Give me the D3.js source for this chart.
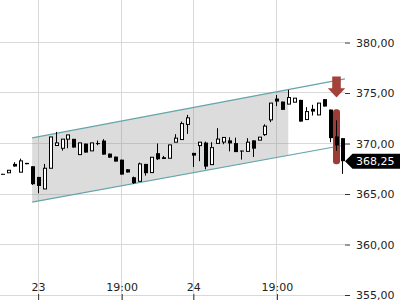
<!DOCTYPE html>
<html>
<head>
<meta charset="utf-8">
<script src="https://cdn.jsdelivr.net/npm/d3@7"></script>
<style>
  body { margin: 0; background: #fff; }
  svg { display: block; font-family: "DejaVu Sans", sans-serif; }
</style>
</head>
<body>
<div id="chart"></div>
<script>
// hourly candles, index 0..57
var candleOpen  = [367.00, 367.10, 367.98, 367.16, 368.08, 367.75, 366.69, 365.50, 367.55, 369.80,
                   369.53, 370.43, 370.46, 368.90, 369.99, 369.27, 370.04, 370.29, 369.00, 368.70,
                   368.40, 367.45, 366.66, 366.26, 367.98, 367.12, 369.04, 368.64, 368.54, 370.13,
                   370.39, 371.89, 369.07, 369.79, 370.09, 367.91, 370.01, 370.14, 370.31, 370.04,
                   369.30, 369.22, 370.31, 370.33, 370.88, 372.34, 374.45, 374.15, 373.90, 374.09,
                   374.32, 372.37, 373.43, 372.83, 374.39, 373.36, 370.70, 370.53];
var candleHigh  = [367.00, 367.35, 368.15, 368.50, 368.08, 367.75, 366.69, 367.98, 370.65, 371.15,
                   370.43, 370.85, 370.46, 370.06, 369.99, 370.06, 370.29, 370.43, 369.00, 368.70,
                   368.40, 367.45, 366.72, 368.11, 367.98, 368.64, 370.00, 368.77, 369.86, 370.92,
                   372.17, 372.83, 369.07, 370.13, 370.19, 370.13, 371.52, 370.60, 370.62, 370.58,
                   369.30, 370.53, 370.31, 370.63, 371.90, 374.00, 374.80, 374.15, 375.31, 374.49,
                   374.32, 373.60, 373.83, 374.00, 374.39, 373.36, 372.29, 370.53];
var candleLow   = [366.95, 367.10, 367.72, 367.16, 367.95, 365.90, 365.07, 365.50, 367.55, 369.80,
                   369.30, 369.53, 369.60, 368.90, 369.10, 369.27, 369.83, 368.90, 368.60, 368.21,
                   366.92, 367.13, 366.00, 366.26, 366.82, 367.12, 368.37, 368.47, 368.54, 370.13,
                   370.39, 370.95, 367.68, 368.25, 367.45, 367.91, 370.01, 369.93, 369.22, 369.15,
                   368.41, 369.22, 368.67, 370.33, 370.75, 372.11, 373.70, 373.33, 373.90, 374.09,
                   372.17, 372.37, 372.77, 372.83, 373.66, 370.13, 369.27, 366.99];
var candleClose = [366.95, 367.35, 367.72, 368.28, 367.95, 365.97, 365.80, 367.55, 370.65, 370.06,
                   370.43, 370.85, 369.60, 370.06, 369.10, 370.06, 370.02, 368.90, 368.60, 368.21,
                   366.92, 367.13, 366.07, 367.98, 367.06, 368.64, 368.44, 368.47, 369.86, 370.53,
                   371.97, 372.54, 368.80, 370.13, 367.71, 369.59, 370.44, 370.60, 370.01, 369.15,
                   369.28, 370.13, 369.49, 370.63, 371.72, 374.00, 374.15, 373.33, 374.55, 374.49,
                   372.17, 373.16, 373.16, 374.00, 373.66, 370.53, 369.81, 368.25];

var xTickIndex  = [6, 20, 32, 46];
var xTickLabels = ["23", "19:00", "24", "19:00"];
var yTicks      = [355, 360, 365, 370, 375, 380];

// trend channel (candle index -> price)
var channelX     = [5, 57.4];
var channelUpper = [370.55, 376.4];
var channelLower = [364.2, 369.85];
var channelFillEnd = 47.9;

// sell signal on candle 56
var signalIndex  = 56;
var signalRange  = [367.95, 373.4];
var signalArrowTip = 374.55;

(function(){
  var width = 400;
  var height = 300;
  var plotRight = 345;

  var svg = d3.select('#chart')
    .append('svg')
    .attr('width', width)
    .attr('height', height);

  svg.append('rect')
    .attr('width', width)
    .attr('height', height)
    .attr('fill', '#fff');

  var x_scale = d3.scaleLinear()
    .domain([0, 57])
    .range([2.3, 342.6]);

  var y_scale = d3.scaleLinear()
    .domain([355, 380])
    .range([295, 42.5]);

  var de = d3.formatLocale({decimal: ",", thousands: ".", grouping: [3], currency: ["", " €"]});
  var fmt = de.format(".2f");

  function px(v) { return Math.floor(v) + 0.5; }

  var candles = d3.range(candleOpen.length).map(function(i) {
    return {i: i, o: candleOpen[i], h: candleHigh[i], l: candleLow[i], c: candleClose[i]};
  });

  // grid
  svg.append('g').selectAll('line')
    .data(yTicks)
    .enter().append('line')
    .attr('x1', 0).attr('x2', plotRight)
    .attr('y1', function(d) { return px(y_scale(d)); })
    .attr('y2', function(d) { return px(y_scale(d)); })
    .attr('stroke', '#d9d9d9');

  svg.append('g').selectAll('line')
    .data(xTickIndex)
    .enter().append('line')
    .attr('y1', 0).attr('y2', height)
    .attr('x1', function(d) { return px(x_scale(d)); })
    .attr('x2', function(d) { return px(x_scale(d)); })
    .attr('stroke', '#d9d9d9');

  // channel
  var upAt = d3.scaleLinear().domain(channelX).range(channelUpper);
  var loAt = d3.scaleLinear().domain(channelX).range(channelLower);

  var fillPts = [[channelX[0], upAt(channelX[0])], [channelFillEnd, upAt(channelFillEnd)],
                 [channelFillEnd, loAt(channelFillEnd)], [channelX[0], loAt(channelX[0])]];
  svg.append('path')
    .attr('d', d3.line().x(function(d) { return x_scale(d[0]); }).y(function(d) { return y_scale(d[1]); })(fillPts) + 'Z')
    .attr('fill', '#8c8c8c')
    .attr('fill-opacity', 0.3);

  [channelUpper, channelLower].forEach(function(vals) {
    svg.append('line')
      .attr('x1', x_scale(channelX[0])).attr('y1', y_scale(vals[0]))
      .attr('x2', x_scale(channelX[1])).attr('y2', y_scale(vals[1]))
      .attr('stroke', '#63a5aa')
      .attr('stroke-width', 1.2);
  });

  // signal highlight
  var sx = px(x_scale(signalIndex));
  svg.append('rect')
    .attr('x', sx - 3.5)
    .attr('width', 7)
    .attr('y', y_scale(signalRange[1]))
    .attr('height', y_scale(signalRange[0]) - y_scale(signalRange[1]))
    .attr('rx', 3)
    .attr('fill', '#9d3c34');

  // candles
  var g = svg.append('g').selectAll('g')
    .data(candles)
    .enter().append('g');

  g.append('line')
    .attr('x1', function(d) { return px(x_scale(d.i)); })
    .attr('x2', function(d) { return px(x_scale(d.i)); })
    .attr('y1', function(d) { return y_scale(d.h); })
    .attr('y2', function(d) { return y_scale(d.l); })
    .attr('stroke', '#000');

  g.append('rect')
    .attr('x', function(d) {
      var cx = Math.floor(x_scale(d.i));
      return d.c >= d.o ? cx - 0.5 : cx - 1;
    })
    .attr('width', function(d) { return d.c >= d.o ? 3 : 4; })
    .attr('y', function(d) { return y_scale(Math.max(d.o, d.c)); })
    .attr('height', function(d) { return Math.max(1, Math.abs(y_scale(d.o) - y_scale(d.c))); })
    .attr('fill', function(d) { return d.c >= d.o ? '#fff' : '#000'; })
    .attr('stroke', function(d) { return d.c >= d.o ? '#000' : 'none'; });

  // arrow
  var ty = y_scale(signalArrowTip);
  svg.append('path')
    .attr('d', 'M' + sx + ',' + ty +
      'L' + (sx - 8.7) + ',' + (ty - 9.4) +
      'L' + (sx - 4.3) + ',' + (ty - 9.4) +
      'L' + (sx - 4.3) + ',' + (ty - 21) +
      'L' + (sx + 4.3) + ',' + (ty - 21) +
      'L' + (sx + 4.3) + ',' + (ty - 9.4) +
      'L' + (sx + 8.7) + ',' + (ty - 9.4) + 'Z')
    .attr('fill', '#a3423a');

  // axes
  var y_axis = d3.axisRight(y_scale)
    .tickValues(yTicks)
    .tickSize(5)
    .tickPadding(6)
    .tickFormat(fmt);

  var ya = svg.append('g')
    .attr('transform', 'translate(' + plotRight + ',0)')
    .call(y_axis);
  ya.select('.domain').remove();
  ya.selectAll('text').attr('font-size', 11).attr('fill', '#222').attr('font-family', '"DejaVu Sans", sans-serif');
  ya.selectAll('line').attr('stroke', '#333');

  var x_axis = d3.axisTop(x_scale)
    .tickValues(xTickIndex)
    .tickSize(6)
    .tickPadding(3)
    .tickFormat(function(d) { return xTickLabels[xTickIndex.indexOf(d)]; });

  var xa = svg.append('g')
    .attr('transform', 'translate(0,' + height + ')')
    .call(x_axis);
  xa.select('.domain').remove();
  xa.selectAll('text').attr('font-size', 11).attr('fill', '#222').attr('font-family', '"DejaVu Sans", sans-serif');
  xa.selectAll('line').attr('stroke', '#333');

  // last price tag
  var last = candleClose[candleClose.length - 1];
  var ly = y_scale(last);
  svg.append('path')
    .attr('d', 'M' + plotRight + ',' + ly + 'L' + (plotRight + 7.5) + ',' + (ly - 7.5) +
      'L' + width + ',' + (ly - 7.5) + 'L' + width + ',' + (ly + 7.5) +
      'L' + (plotRight + 7.5) + ',' + (ly + 7.5) + 'Z')
    .attr('fill', '#000');
  svg.append('text')
    .attr('x', 356)
    .attr('y', ly)
    .attr('dy', '0.35em')
    .attr('font-size', 11)
    .attr('fill', '#fff')
    .text(fmt(last));
})();
</script>
</body>
</html>
